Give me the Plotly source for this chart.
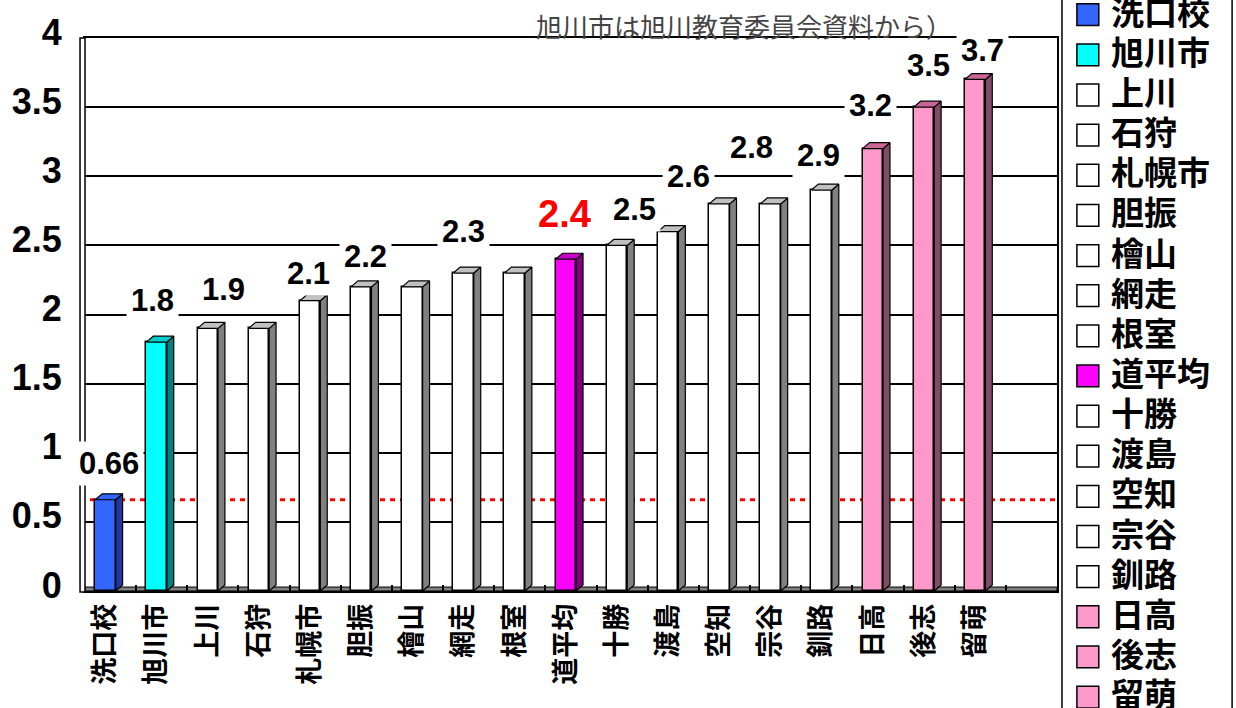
import plotly.graph_objects as go

# ---------------- data ----------------
categories = ["洗口校", "旭川市", "上川", "石狩", "札幌市", "胆振", "檜山", "網走", "根室",
              "道平均", "十勝", "渡島", "空知", "宗谷", "釧路", "日高", "後志", "留萌"]
values = [0.66, 1.8, 1.9, 1.9, 2.1, 2.2, 2.2, 2.3, 2.3,
          2.4, 2.5, 2.6, 2.8, 2.8, 2.9, 3.2, 3.5, 3.7]
groups = ["school", "city", "region", "region", "region", "region", "region", "region", "region",
          "average", "region", "region", "region", "region", "region", "high", "high", "high"]
y_tick_values = [0, 0.5, 1, 1.5, 2, 2.5, 3, 3.5, 4]
y_tick_labels = ["0", "0.5", "1", "1.5", "2", "2.5", "3", "3.5", "4"]
label_texts = ["0.66", "1.8", "1.9", "2.1", "2.2", "2.3", "2.4", "2.5", "2.6", "2.8", "2.9", "3.2", "3.5", "3.7"]
note_text = "旭川市は旭川教育委員会資料から）"

# label placement (layout, data units)
label_x = [-0.03, 0.82, 2.20, 3.86, 4.98, 6.89, 8.87, 10.24, 11.30, 12.53, 13.83, 14.86, 15.99, 17.04]
label_y = [0.92, 2.10, 2.18, 2.30, 2.42, 2.60, 2.73, 2.76, 3.00, 3.21, 3.15, 3.51, 3.80, 3.91]

# ---------------- styles ----------------
front_col = {"school": "#3366FF", "city": "#00FFFF", "region": "#FFFFFF", "average": "#FF00FF", "high": "#FF99CC"}
side_col = {"school": "#22379E", "city": "#008080", "region": "#808080", "average": "#800080", "high": "#804D66"}
top_col = {"school": "#3366FF", "city": "#00CCCC", "region": "#C0C0C0", "average": "#CC00CC", "high": "#CC6699"}

W, H = 1236, 708
ML, MR, MT, MB = 80, 179, 33, 117
PW, PH = W - ML - MR, H - MT - MB


def px(x):
    return (x - ML) / PW


def py(y):
    return (H - MB - y) / PH


BAR_OFF = -0.1
BAR_W = 0.4
DX = 0.135
DY = 0.043

fig = go.Figure()

xs = [i + BAR_OFF for i in range(len(categories))]
fig.add_trace(go.Bar(
    x=xs, y=values, width=BAR_W,
    marker=dict(color=[front_col[g] for g in groups], line=dict(color="black", width=1.5)),
    showlegend=False, hoverinfo="x+y",
))

for i, (v, g) in enumerate(zip(values, groups)):
    xl = xs[i] - BAR_W / 2
    xr = xs[i] + BAR_W / 2
    fig.add_trace(go.Scatter(
        x=[xr, xr + DX, xr + DX, xr, xr], y=[0, DY, v + DY, v, 0],
        mode="lines", fill="toself", fillcolor=side_col[g],
        line=dict(color="black", width=1.2), showlegend=False, hoverinfo="skip"))
    fig.add_trace(go.Scatter(
        x=[xl, xl + DX, xr + DX, xr, xl], y=[v, v + DY, v + DY, v, v],
        mode="lines", fill="toself", fillcolor=top_col[g],
        line=dict(color="black", width=1.2), showlegend=False, hoverinfo="skip"))

shapes = []
# floor strip
shapes.append(dict(type="rect", xref="paper", yref="paper", x0=0, x1=1, y0=py(591), y1=py(587),
                   fillcolor="#808080", line=dict(color="black", width=1), layer="between"))
# left wall
shapes.append(dict(type="rect", xref="paper", yref="paper", x0=px(75), x1=px(80), y0=py(592), y1=py(33),
                   fillcolor="white", line=dict(color="black", width=1.5)))
# red dotted reference line at the school's value
shapes.append(dict(type="line", xref="paper", yref="y", x0=px(75), x1=1, y0=values[0], y1=values[0],
                   line=dict(color="red", width=3, dash="5px,5px"), layer="between"))

annotations = []
for t, lx, ly in zip(label_texts, label_x, label_y):
    is_avg = t == "2.4"
    annotations.append(dict(
        x=lx, y=ly, xref="x", yref="y", text=t, showarrow=False,
        font=dict(family="Liberation Sans", size=38 if is_avg else 31,
                  color="red" if is_avg else "black", weight="bold"),
        bgcolor="white", borderpad=4))

# note text
annotations.append(dict(x=px(531), y=py(20), xref="paper", yref="paper", xanchor="left", yanchor="middle",
                        text=note_text, showarrow=False,
                        font=dict(family="Noto Sans CJK JP", size=26, color="#444444")))

# manual legend (extends beyond the picture, as in the original)
shapes.append(dict(type="rect", xref="paper", yref="paper", x0=px(1062), x1=px(1233), y0=py(740), y1=py(-30),
                   fillcolor="white", line=dict(color="black", width=1.5)))
for k, (c, g) in enumerate(zip(categories, groups)):
    cy = 9.5 + 40.5 * k
    shapes.append(dict(type="rect", xref="paper", yref="paper", x0=px(1077), x1=px(1099),
                       y0=py(cy + 11), y1=py(cy - 11), fillcolor=front_col[g],
                       line=dict(color="black", width=1.5)))
    annotations.append(dict(x=px(1109), y=py(cy - 4), xref="paper", yref="paper", xanchor="left",
                            yanchor="middle", height=34, valign="middle",
                            text=c, showarrow=False,
                            font=dict(family="Noto Sans CJK JP", size=33, color="black", weight="bold")))

fig.update_layout(
    width=W, height=H,
    margin=dict(l=ML, r=MR, t=MT, b=MB, pad=0),
    paper_bgcolor="white", plot_bgcolor="white",
    bargap=0, showlegend=False,
    shapes=shapes, annotations=annotations,
    xaxis=dict(type="linear", range=[-0.5, 18.5], tickmode="array", tickvals=xs, ticktext=categories,
               tickangle=-90, ticks="", showgrid=False, zeroline=False,
               showline=True, linecolor="black", linewidth=2, mirror=True,
               tickfont=dict(family="Noto Sans CJK JP", size=27, color="black", weight="bold"),
               minor=dict(tickmode="array", tickvals=[i + 0.5 for i in range(len(categories))],
                          ticks="inside", ticklen=6, tickcolor="black", tickwidth=1.5, showgrid=False)),
    yaxis=dict(range=[0, 4], tickmode="array", tickvals=y_tick_values, ticktext=y_tick_labels,
               showgrid=True, gridcolor="black", gridwidth=1.5, zeroline=False,
               showline=True, linecolor="black", linewidth=2, mirror=True, ticks="",
               ticklabelshift=-6, ticklabelstandoff=14,
               tickfont=dict(family="Liberation Sans", size=36, color="black", weight="bold")),
    font=dict(family="Noto Sans CJK JP"),
)

fig.write_html("out.html")
